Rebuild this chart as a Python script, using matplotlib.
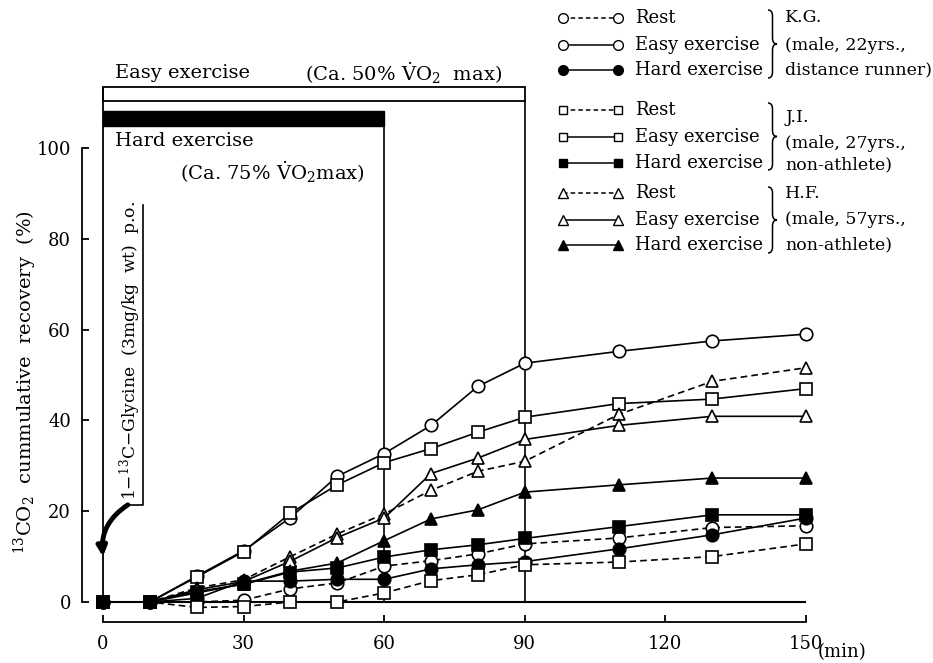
import matplotlib
matplotlib.use("Agg")
import matplotlib.pyplot as plt
import numpy as np
from matplotlib.path import Path
from matplotlib.patches import PathPatch, Rectangle

plt.rcParams['font.family'] = ['DejaVu Serif']
plt.rcParams['mathtext.fontset'] = 'dejavuserif'

# sampling times (min)
t = [0, 10, 20, 30, 40, 50, 60, 70, 80, 90, 110, 130, 150]

# 13CO2 cumulative recovery (%)
kg_rest = [0, 0, 0.0, 0.4, 2.9, 4.2, 7.9, 9.1, 10.6, 12.8, 14.1, 16.4, 16.8]
kg_easy = [0, 0, 5.7, 11.3, 18.6, 27.7, 32.7, 38.9, 47.5, 52.6, 55.2, 57.5, 59.0]
kg_hard = [0, 0, 0.8, 4.6, 4.6, 5.0, 5.0, 7.3, 8.2, 8.9, 11.7, 14.8, 18.5]
ji_rest = [0, 0, -1.2, -1.0, 0.0, 0.0, 2.0, 4.7, 6.0, 8.2, 8.8, 10.0, 12.8]
ji_easy = [0, 0, 5.5, 11.1, 19.6, 25.8, 30.7, 33.8, 37.4, 40.7, 43.7, 44.7, 47.0]
ji_hard = [0, 0, 2.3, 3.9, 6.6, 7.5, 9.9, 11.5, 12.6, 14.0, 16.6, 19.2, 19.2]
hf_rest = [0, 0, 3.1, 4.9, 10.0, 15.0, 19.4, 24.6, 28.8, 31.0, 41.3, 48.6, 51.6]
hf_easy = [0, 0, 2.7, 4.5, 9.0, 14.2, 18.5, 28.3, 31.7, 35.8, 38.9, 40.9, 40.9]
hf_hard = [0, 0, 2.0, 4.0, 6.8, 8.6, 13.5, 18.3, 20.3, 24.2, 25.8, 27.3, 27.3]

conditions = ['Rest', 'Easy exercise', 'Hard exercise']
subjects = ['K.G.', 'J.I.', 'H.F.']
subject_notes = [['K.G.', '(male, 22yrs.,', 'distance runner)'],
                 ['J.I.', '(male, 27yrs.,', 'non-athlete)'],
                 ['H.F.', '(male, 57yrs.,', 'non-athlete)']]
series = [[kg_rest, kg_easy, kg_hard],
          [ji_rest, ji_easy, ji_hard],
          [hf_rest, hf_easy, hf_hard]]

easy_end = 90
hard_end = 60

markers = ['o', 's', '^']
msizes = [9, 8, 9]
dash = (0, (4, 2.5))

fig = plt.figure(figsize=(9.33, 6.63), dpi=100)
ax = fig.add_axes([103 / 933, 61 / 663, 703 / 933, 454 / 663])
ax.set_xlim(0, 150)
ax.set_ylim(0, 100)

for i, subj in enumerate(series):
    for j, vals in enumerate(subj):
        ls = dash if j == 0 else '-'
        mfc = 'black' if j == 2 else 'white'
        ax.plot(t, vals, linestyle=ls, color='black', lw=1.2,
                marker=markers[i], ms=msizes[i], mfc=mfc, mec='black',
                mew=1.2, clip_on=False, zorder=3)

# baseline and exercise periods
ax.hlines(0, 0, 150, color='black', lw=1.5, zorder=2, clip_on=False)
ax.vlines(0, 0, 113.5, color='black', lw=1.3, clip_on=False)
ax.vlines(hard_end, 0, 104.8, color='black', lw=1.2, clip_on=False)
ax.vlines(easy_end, 0, 110.4, color='black', lw=1.2, clip_on=False)
ax.add_patch(Rectangle((0, 110.4), easy_end, 3.1, fc='white', ec='black',
                       lw=1.3, clip_on=False))
ax.add_patch(Rectangle((0, 104.8), hard_end, 3.3, fc='black', ec='black',
                       lw=1, clip_on=False))

ax.text(2.6, 116.5, 'Easy exercise', fontsize=14, va='center', ha='left')
ax.text(43, 116.5, r'(Ca. 50% $\dot{\mathrm{V}}\mathrm{O}_2$  max)', fontsize=14,
        va='center', ha='left')
ax.text(2.6, 101.5, 'Hard exercise', fontsize=14, va='center', ha='left')
ax.text(16.5, 94.7, r'(Ca. 75% $\dot{\mathrm{V}}\mathrm{O}_2$max)', fontsize=14,
        va='center', ha='left')

# glycine dose annotation
ax.text(5.9, 22.5, r'1$-^{13}$C$-$Glycine  (3mg/kg  wt)  p.o.', rotation=90,
        fontsize=12.3, ha='center', va='bottom')
ax.plot([8.5, 8.5, 5.3], [87.5, 21.4, 21.4], color='black', lw=1.2,
        clip_on=False)
ax.annotate('', xy=(0, 10), xytext=(5.3, 21.4),
            arrowprops=dict(arrowstyle='-|>', lw=3.5, color='black',
                            connectionstyle='arc3,rad=0.3', shrinkA=0,
                            shrinkB=0, mutation_scale=14))

# axes styling
for s in ['top', 'right']:
    ax.spines[s].set_visible(False)
ax.spines['left'].set_position(('outward', 15))
ax.spines['bottom'].set_position(('outward', 14.5))
ax.spines['left'].set_bounds(0, 100)
ax.spines['bottom'].set_bounds(0, 150)
ax.spines['left'].set_linewidth(1.3)
ax.spines['bottom'].set_linewidth(1.3)
ax.set_xticks([0, 30, 60, 90, 120, 150])
ax.set_yticks([0, 20, 40, 60, 80, 100])
ax.tick_params(axis='both', direction='in', length=5, width=1.3,
               labelsize=13)
ax.tick_params(axis='y', pad=8)
ax.tick_params(axis='x', pad=9)
ax.set_ylabel(r'$^{13}$CO$_2$  cummulative  recovery  (%)', fontsize=14)
ax.yaxis.set_label_coords(-0.091, 0.485)
ax.text(152.5, -11, '(min)', fontsize=13, ha='left', va='center',
        transform=ax.transData)

# hand-made legend, in pixel coordinates
lax = fig.add_axes([0, 0, 1, 1])
lax.set_xlim(0, 933)
lax.set_ylim(663, 0)
lax.axis('off')

row_y = [[18, 45, 70], [110, 137, 163], [193, 220, 245]]
note_y = [[18, 45, 70], [118, 143, 165], [193, 220, 245]]
brace_span = [(10, 78), (103, 170), (187, 253)]


def brace(x, y0, y1, w):
    ym = (y0 + y1) / 2
    r = min(6, (y1 - y0) / 6)
    xm = x + w / 2
    verts = [(x, y0), (xm, y0), (xm, y0 + r), (xm, ym - r), (xm, ym),
             (x + w, ym), (xm, ym), (xm, ym + r), (xm, y1 - r), (xm, y1),
             (x, y1)]
    codes = [Path.MOVETO, Path.CURVE3, Path.CURVE3, Path.LINETO, Path.CURVE3,
             Path.CURVE3, Path.CURVE3, Path.CURVE3, Path.LINETO, Path.CURVE3,
             Path.CURVE3]
    return PathPatch(Path(verts, codes), fc='none', ec='black', lw=1.1)


for i in range(3):
    for j in range(3):
        y = row_y[i][j]
        ls = (0, (3, 2)) if j == 0 else '-'
        mfc = 'black' if j == 2 else 'white'
        lax.plot([563, 618], [y, y], linestyle=ls, color='black', lw=1.1,
                 marker=markers[i], ms=msizes[i] - 2, mfc=mfc, mec='black',
                 mew=1.0)
        lax.text(635, y, conditions[j], fontsize=13, ha='left', va='center')
        lax.text(785, note_y[i][j], subject_notes[i][j], fontsize=12.5,
                 ha='left', va='center')
    lax.add_patch(brace(768, brace_span[i][0], brace_span[i][1], 9))

fig.savefig('out.png', dpi=100, facecolor='white')
